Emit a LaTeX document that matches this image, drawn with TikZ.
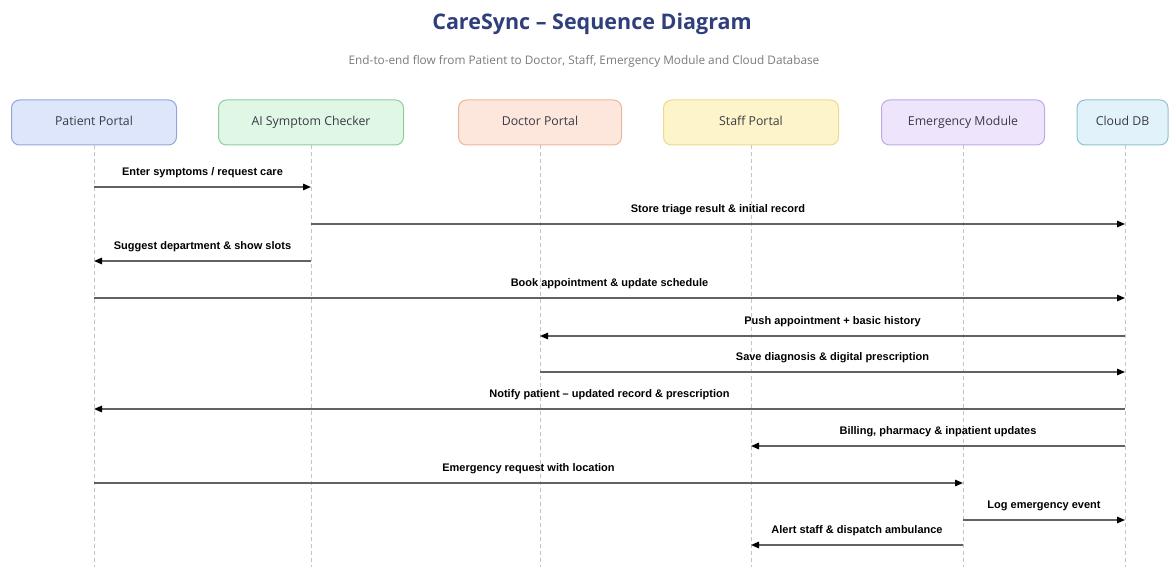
\documentclass[tikz,border=0pt]{standalone}
\usepackage{fontspec}
\setmainfont{Open Sans}
\newfontfamily\msgfont{Liberation Sans}
\usepackage{xcolor}
\definecolor{cTitle}{HTML}{2E3F7C}
\definecolor{cSub}{HTML}{7A7A7A}
\definecolor{cText}{HTML}{3A3A46}
\definecolor{cLine}{HTML}{626262}
\definecolor{cLife}{HTML}{C4C4C4}
\definecolor{cPatFill}{HTML}{DDE6FA}\definecolor{cPatDraw}{HTML}{93A6DB}
\definecolor{cAiFill}{HTML}{DFF7E4}\definecolor{cAiDraw}{HTML}{8FCC9D}
\definecolor{cDocFill}{HTML}{FDE6DB}\definecolor{cDocDraw}{HTML}{EDB59C}
\definecolor{cStaffFill}{HTML}{FEF4C9}\definecolor{cStaffDraw}{HTML}{EED98C}
\definecolor{cEmgFill}{HTML}{EEE4FB}\definecolor{cEmgDraw}{HTML}{C0A8E6}
\definecolor{cDbFill}{HTML}{E1F2FA}\definecolor{cDbDraw}{HTML}{8FC1CE}
\usetikzlibrary{arrows.meta}
\tikzset{
  actor/.style={draw=#1Draw,fill=#1Fill,line width=1pt,rounded corners=8pt,
    minimum height=45pt,align=center,font=\fontsize{12.3}{14}\selectfont,text=cText,
    text height=1.6ex,text depth=0.4ex},
  lifeline/.style={dashed,dash pattern=on 4pt off 3pt,line width=0.6pt,draw=cLife},
  msg/.style={-{Triangle[length=8pt,width=6.5pt,color=black]},line width=1.4pt,draw=cLine},
  msg-label/.style={font=\msgfont\bfseries\fontsize{11}{13}\selectfont,text=black,
    midway,yshift=14pt,inner sep=0pt},
}

\begin{document}
\begin{tikzpicture}[x=1pt,y=-1pt]
  \useasboundingbox (0,0) rectangle (1170,567);
  \node[font=\bfseries\fontsize{21.5}{26}\selectfont,text=cTitle] (title) at (592,24)
    {CareSync – Sequence Diagram};
  \node[font=\fontsize{11.8}{14}\selectfont,text=cSub] (subtitle) at (584,61)
    {End-to-end flow from Patient to Doctor, Staff, Emergency Module and Cloud Database};

  % participants
  \node[actor=cPat,minimum width=165pt] (pat) at (94,122.5) {Patient Portal};
  \node[actor=cAi,minimum width=185pt] (ai) at (311,122.5) {AI Symptom Checker};
  \node[actor=cDoc,minimum width=163pt] (doc) at (540,122.5) {Doctor Portal};
  \node[actor=cStaff,minimum width=175pt] (staff) at (751,122.5) {Staff Portal};
  \node[actor=cEmg,minimum width=163pt] (emg) at (963,122.5) {Emergency Module};
  \node[actor=cDb,minimum width=91pt] (db) at (1122.5,122.5) {Cloud DB};

  % lifelines
  \foreach \p/\x in {pat/94,ai/311,doc/540,staff/751,emg/963,db/1125}{
    \coordinate (\p-end) at (\x,567);
    \draw[lifeline] (\x,145) -- (\p-end);
  }

  % messages
  \draw[msg] (pat-end |- 0,187) -- node[msg-label] {Enter symptoms / request care} (ai-end |- 0,187);
  \draw[msg] (ai-end |- 0,224) -- node[msg-label] {Store triage result \& initial record} (db-end |- 0,224);
  \draw[msg] (ai-end |- 0,261) -- node[msg-label] {Suggest department \& show slots} (pat-end |- 0,261);
  \draw[msg] (pat-end |- 0,298) -- node[msg-label] {Book appointment \& update schedule} (db-end |- 0,298);
  \draw[msg] (db-end |- 0,336) -- node[msg-label] {Push appointment + basic history} (doc-end |- 0,336);
  \draw[msg] (doc-end |- 0,372) -- node[msg-label] {Save diagnosis \& digital prescription} (db-end |- 0,372);
  \draw[msg] (db-end |- 0,409) -- node[msg-label] {Notify patient – updated record \& prescription} (pat-end |- 0,409);
  \draw[msg] (db-end |- 0,446) -- node[msg-label] {Billing, pharmacy \& inpatient updates} (staff-end |- 0,446);
  \draw[msg] (pat-end |- 0,483) -- node[msg-label] {Emergency request with location} (emg-end |- 0,483);
  \draw[msg] (emg-end |- 0,520) -- node[msg-label] {Log emergency event} (db-end |- 0,520);
  \draw[msg] (emg-end |- 0,545) -- node[msg-label] {Alert staff \& dispatch ambulance} (staff-end |- 0,545);
\end{tikzpicture}
\end{document}
